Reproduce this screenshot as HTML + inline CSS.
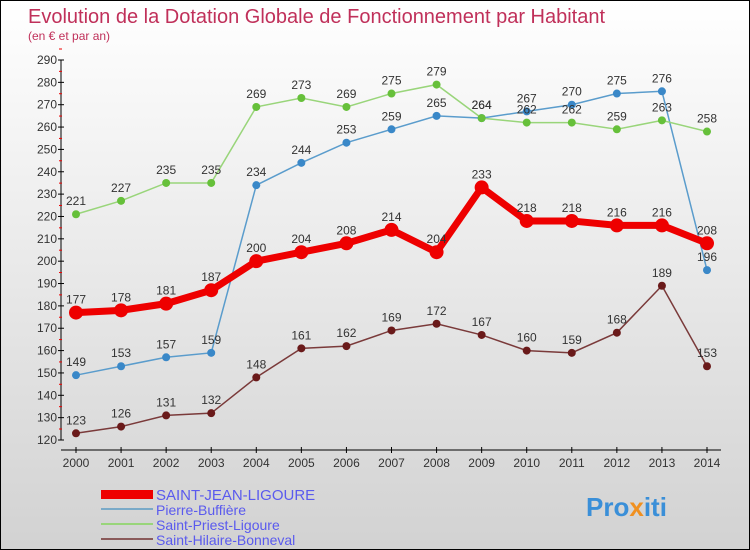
<!DOCTYPE html>
<html><head><meta charset="utf-8"><style>
body{margin:0}
#c{position:relative;width:748px;height:548px;border:1px solid #000;background:linear-gradient(#fff,#d2d2d2);font-family:"Liberation Sans",sans-serif;overflow:hidden}
svg{position:absolute;left:0;top:0}
</style></head><body>
<div id="c">
<svg id="s" width="748" height="548">
<text x="27" y="22" font-size="20" fill="#c0305a">Evolution de la Dotation Globale de Fonctionnement par Habitant</text>
<text x="27" y="39" font-size="12" fill="#c0305a">(en € et par an)</text>
<line x1="60" y1="59" x2="60" y2="439" stroke="#000"/>
<line x1="60" y1="449" x2="720" y2="449" stroke="#000"/>
<g id="ax"></g><g id="series"></g>
<g>
<rect x="100" y="489" width="52" height="9" fill="#e00"/>
<text x="155" y="499" font-size="15" fill="#5a5aee">SAINT-JEAN-LIGOURE</text>
<line x1="100" y1="508" x2="152" y2="508" stroke="#7aaac8" stroke-width="2"/>
<text x="155" y="514" font-size="14" fill="#5a5aee">Pierre-Buffière</text>
<line x1="100" y1="523" x2="152" y2="523" stroke="#99d57a" stroke-width="2"/>
<text x="155" y="529" font-size="14" fill="#5a5aee">Saint-Priest-Ligoure</text>
<line x1="100" y1="538" x2="152" y2="538" stroke="#8a5a5a" stroke-width="2"/>
<text x="155" y="544" font-size="14" fill="#5a5aee">Saint-Hilaire-Bonneval</text>
</g>
<text x="585" y="515" font-size="26" font-weight="bold" fill="#3a8fd8">Pro<tspan fill="#f09020">x</tspan>iti</text>
</svg></div>
<script>
const years=[2000,2001,2002,2003,2004,2005,2006,2007,2008,2009,2010,2011,2012,2013,2014];
const yTicks=[120,130,140,150,160,170,180,190,200,210,220,230,240,250,260,270,280,290];
const sjl=[177,178,181,187,200,204,208,214,204,233,218,218,216,216,208];
const pb=[149,153,157,159,234,244,253,259,265,264,267,270,275,276,196];
const spl=[221,227,235,235,269,273,269,275,279,264,262,262,259,263,258];
const shb=[123,126,131,132,148,161,162,169,172,167,160,159,168,189,153];
const NS="http://www.w3.org/2000/svg";
const X=i=>75+i*(706-75)/(years.length-1);
const Y=v=>439-(v-120)*(380/170);
function el(t,a,p){const e=document.createElementNS(NS,t);for(const k in a)e.setAttribute(k,a[k]);p.appendChild(e);return e;}
const ax=document.getElementById('ax');
yTicks.forEach(v=>{const y=Y(v);
 const t=el('line',{x1:57,y1:y,x2:63,y2:y,stroke:'#000'},ax);
 
 
 const m=el('line',{x1:58,y1:y-11,x2:61,y2:y-11,stroke:'#e00'},ax);
 
 
 const l=el('text',{x:56,y:y+4,'font-size':12,'text-anchor':'end',fill:'#333'},ax);l.textContent=v;
 
 
});
years.forEach((yr,i)=>{const x=X(i);
 const t=el('line',{x1:x,y1:446,x2:x,y2:452,stroke:'#000'},ax);
 
 
 const l=el('text',{x:x,y:466,'font-size':12,'text-anchor':'middle',fill:'#333'},ax);l.textContent=yr;
 
 
});
const g=document.getElementById('series');
function series(name,vals,lc,pc,lw,r){
 const p=el('polyline',{points:vals.map((v,i)=>X(i)+','+Y(v)).join(' '),fill:'none',stroke:lc,'stroke-width':lw},g);
 
 
 vals.forEach((v,i)=>{
  const c=el('circle',{cx:X(i),cy:Y(v),r:r,fill:pc},g);
  
  
  const t=el('text',{x:X(i),y:Y(v)-9,'font-size':12,'text-anchor':'middle',fill:'#333'},g);t.textContent=v;
  
  
 });
}
series('saint-hilaire',shb,'#7a3a3a','#6a1a1a',1.5,4);
series('pierre',pb,'#5a9ccc','#3a88c8',1.5,4);
series('saint-priest',spl,'#99d57a','#66c03a',1.5,4);
series('saint-jean',sjl,'#e00','#e00',7,7);
</script>
</body></html>
